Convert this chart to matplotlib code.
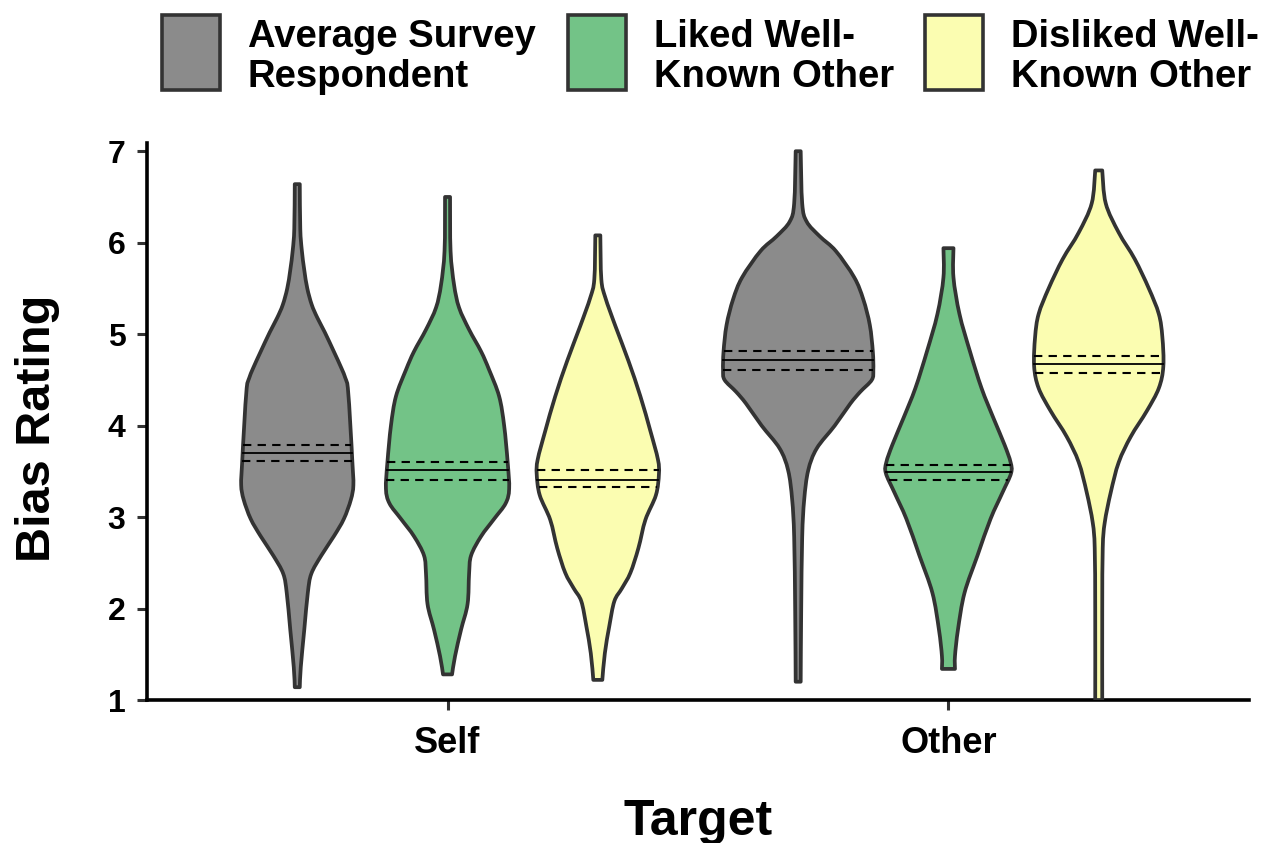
import numpy as np
import matplotlib
matplotlib.use("Agg")
import matplotlib.pyplot as plt
from matplotlib.patches import PathPatch, Rectangle
from matplotlib.path import Path

plt.rcParams['font.family'] = ['Liberation Sans', 'DejaVu Sans']
plt.rcParams['font.weight'] = 'bold'

# ---- data ---------------------------------------------------------------
targets = ["Self", "Other"]
groups = ["Average Survey\nRespondent", "Liked Well-\nKnown Other", "Disliked Well-\nKnown Other"]
fill_colors = ["#8b8b8b", "#73c387", "#fbfdb1"]

# violin density outlines: rating levels and half-widths (x units)
self_avg_y = [1.14, 1.36, 1.77, 2.17, 2.38, 2.58, 2.79, 2.98, 3.19, 3.35, 3.60, 4.00, 4.41, 4.52, 4.63, 4.81, 5.02, 5.18, 5.32, 5.50, 5.70, 5.92, 6.15, 6.64]
self_avg_w = [0.005, 0.007, 0.014, 0.021, 0.028, 0.048, 0.073, 0.093, 0.107, 0.112, 0.110, 0.106, 0.101, 0.096, 0.088, 0.073, 0.055, 0.040, 0.029, 0.020, 0.014, 0.009, 0.006, 0.005]

self_liked_y = [1.28, 1.48, 1.77, 2.05, 2.38, 2.58, 2.79, 2.98, 3.15, 3.31, 3.60, 4.00, 4.32, 4.61, 4.81, 5.05, 5.29, 5.54, 5.91, 6.50]
self_liked_w = [0.009, 0.015, 0.027, 0.040, 0.043, 0.047, 0.067, 0.093, 0.116, 0.123, 0.120, 0.113, 0.103, 0.083, 0.067, 0.043, 0.023, 0.013, 0.006, 0.005]

self_disliked_y = [1.22, 1.51, 1.81, 2.08, 2.22, 2.39, 2.66, 2.97, 3.24, 3.47, 3.63, 3.94, 4.32, 4.71, 5.09, 5.40, 5.60, 6.08]
self_disliked_w = [0.009, 0.014, 0.023, 0.033, 0.048, 0.065, 0.081, 0.095, 0.116, 0.122, 0.120, 0.105, 0.085, 0.061, 0.035, 0.015, 0.007, 0.005]

other_avg_y = [1.20, 1.97, 2.78, 3.19, 3.51, 3.75, 4.00, 4.24, 4.37, 4.50, 4.61, 4.81, 5.10, 5.38, 5.62, 5.91, 6.07, 6.23, 6.43, 7.00]
other_avg_w = [0.005, 0.006, 0.008, 0.012, 0.020, 0.037, 0.073, 0.104, 0.124, 0.147, 0.150, 0.149, 0.143, 0.130, 0.112, 0.075, 0.043, 0.017, 0.008, 0.005]

other_liked_y = [1.34, 1.48, 1.77, 2.17, 2.58, 2.98, 3.27, 3.48, 3.60, 3.79, 4.08, 4.41, 4.81, 5.22, 5.62, 5.94]
other_liked_w = [0.013, 0.013, 0.019, 0.032, 0.058, 0.084, 0.108, 0.125, 0.124, 0.112, 0.090, 0.066, 0.043, 0.022, 0.010, 0.010]

other_disliked_y = [1.00, 1.97, 2.66, 2.94, 3.27, 3.60, 3.88, 4.16, 4.41, 4.65, 4.97, 5.22, 5.50, 5.82, 6.11, 6.43, 6.79]
other_disliked_w = [0.007, 0.007, 0.008, 0.012, 0.024, 0.040, 0.064, 0.096, 0.120, 0.129, 0.127, 0.120, 0.100, 0.072, 0.040, 0.014, 0.007]

# medians with lower / upper interval bounds
medians = [[3.70, 3.51, 3.41], [4.72, 3.49, 4.67]]
lower = [[3.61, 3.41, 3.33], [4.61, 3.41, 4.58]]
upper = [[3.79, 3.60, 3.51], [4.82, 3.57, 4.76]]

profiles = [
    [(self_avg_y, self_avg_w), (self_liked_y, self_liked_w), (self_disliked_y, self_disliked_w)],
    [(other_avg_y, other_avg_w), (other_liked_y, other_liked_w), (other_disliked_y, other_disliked_w)],
]


def bezier_side(pts):
    """Bezier control points for an open curve through pts (Catmull-Rom tangents)."""
    ext = np.vstack([pts[:1], pts, pts[-1:]])
    out = []
    for i in range(1, len(ext) - 2):
        p0, p1, p2, p3 = ext[i - 1], ext[i], ext[i + 1], ext[i + 2]
        out += [p1 + (p2 - p0) / 6.0, p2 - (p3 - p1) / 6.0, p2]
    return out


def violin_path(c, ys, ws):
    left = np.column_stack([c - ws, ys])
    right = np.column_stack([c + ws, ys])[::-1]
    verts = [left[0]] + bezier_side(left) + [right[0]] + bezier_side(right) + [left[0]]
    codes = ([Path.MOVETO] + [Path.CURVE4] * (3 * (len(ys) - 1)) + [Path.LINETO]
             + [Path.CURVE4] * (3 * (len(ys) - 1)) + [Path.CLOSEPOLY])
    return Path(np.array(verts), codes)


# ---- figure -------------------------------------------------------------
W, H = 1266, 843
fig = plt.figure(figsize=(W / 100, H / 100), dpi=100)
ax_l, ax_r, ax_t, ax_b = 147, 1249, 143, 700
ax = fig.add_axes([ax_l / W, 1 - ax_b / H, (ax_r - ax_l) / W, (ax_b - ax_t) / H])

edge = "#333333"
dodge = 0.3
for ti, tname in enumerate(targets):
    for gi in range(3):
        c = ti + 1 + (gi - 1) * dodge
        ys, ws = np.array(profiles[ti][gi][0]), np.array(profiles[ti][gi][1])
        ax.add_patch(PathPatch(violin_path(c, ys, ws), facecolor=fill_colors[gi],
                               edgecolor=edge, linewidth=2.7, joinstyle='round',
                               zorder=3))
        for val, ls, lw in [(medians[ti][gi], '-', 1.3),
                            (lower[ti][gi], (0, (4, 3)), 1.5),
                            (upper[ti][gi], (0, (4, 3)), 1.5)]:
            hw = np.interp(val, ys, ws)
            ax.plot([c - hw, c + hw], [val, val], color='black',
                    linestyle=ls, linewidth=lw, zorder=4)

ax.set_xlim(0.4, 2.6)
ax.set_ylim(1, 7.09)
ax.set_xticks([1, 2])
ax.set_xticklabels(targets)
ax.set_yticks([1, 2, 3, 4, 5, 6, 7])
for s in ['top', 'right']:
    ax.spines[s].set_visible(False)
for s in ['left', 'bottom']:
    ax.spines[s].set_linewidth(2.6)
    ax.spines[s].set_color('black')
    ax.spines[s].set_zorder(2)
ax.tick_params(axis='both', length=7.5, width=2.2, color=edge)
ax.tick_params(axis='x', labelsize=26, pad=11)
ax.tick_params(axis='y', labelsize=23, pad=8)
for lab in ax.get_xticklabels() + ax.get_yticklabels():
    lab.set_fontweight('bold')

fig.text((ax_l + ax_r) / 2 / W, 1 - 835 / H, "Target", fontsize=36,
         fontweight='bold', ha='center', va='baseline')
fig.text(50 / W, 1 - 428 / H, "Bias Rating", fontsize=35, fontweight='bold',
         rotation=90, rotation_mode='anchor', ha='center', va='baseline')

# legend across the top
key_x = [162, 568, 925]
text_x = [248, 654, 1011]
key_w, key_top, key_bot = 58, 15, 90
for gi, name in enumerate(groups):
    fig.add_artist(Rectangle((key_x[gi] / W, 1 - key_bot / H), key_w / W,
                             (key_bot - key_top) / H, transform=fig.transFigure,
                             facecolor=fill_colors[gi], edgecolor=edge,
                             linewidth=2.6))
    line1, line2 = name.split("\n")
    fig.text(text_x[gi] / W, 1 - 47 / H, line1, fontsize=27.5, fontweight='bold',
             ha='left', va='baseline')
    fig.text(text_x[gi] / W, 1 - 87 / H, line2, fontsize=27.5, fontweight='bold',
             ha='left', va='baseline')

fig.savefig("out.png", dpi=100, facecolor='white')
